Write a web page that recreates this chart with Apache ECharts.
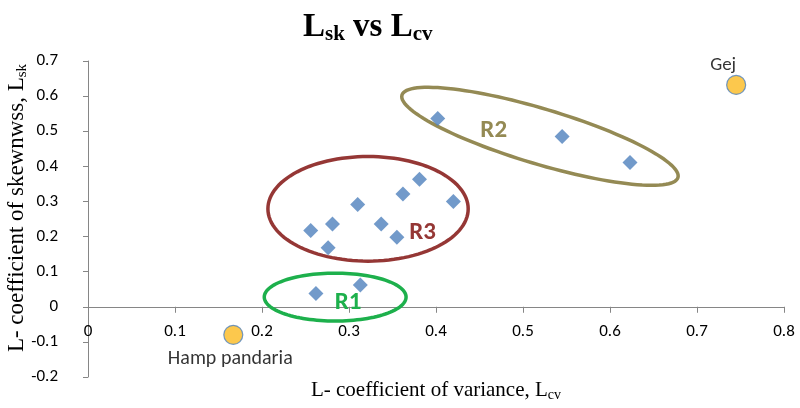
<!DOCTYPE html>
<html>
<head>
<meta charset="utf-8">
<title>L-moment ratio diagram</title>
<script src="https://cdn.jsdelivr.net/npm/echarts@6/dist/echarts.min.js"></script>
<style>
  html, body { margin: 0; padding: 0; background: #fff; }
  #chart { width: 800px; height: 408px; }
</style>
</head>
<body>
<div id="chart"></div>
<script>
// L-coefficient of variance (x) and L-skewness (y) for each site
const siteLcv = [0.402, 0.545, 0.623, 0.256, 0.281, 0.276, 0.310, 0.337, 0.355, 0.362, 0.381, 0.420, 0.262, 0.313];
const siteLsk = [0.536, 0.485, 0.411, 0.217, 0.236, 0.168, 0.291, 0.236, 0.198, 0.321, 0.363, 0.300, 0.038, 0.062];

// Outlying sites, labelled by name
const outlierNames = ['Gej', 'Hamp pandaria'];
const outlierLcv = [0.745, 0.167];
const outlierLsk = [0.632, -0.080];

// Axis ticks
const xTicks = [0, 0.1, 0.2, 0.3, 0.4, 0.5, 0.6, 0.7, 0.8];
const yTicks = [-0.2, -0.1, 0, 0.1, 0.2, 0.3, 0.4, 0.5, 0.6, 0.7];

// Homogeneous regions drawn as ellipses in data units:
// centre, half major-axis vector, half minor-axis vector, label anchor
const regionNames = ['R1', 'R2', 'R3'];
const regionCentre = [[0.2841, 0.0276], [0.5195, 0.4855], [0.3219, 0.279]];
const regionAxisA = [[0.0815, 0], [0.1586, -0.1175], [0.1151, 0]];
const regionAxisB = [[0, 0.0682], [-0.00916, -0.0754], [0, 0.149]];
const regionLabelAt = [[0.2989, 0.0105], [0.4663, 0.5006], [0.3846, 0.212]];
const regionColors = ['#1DB04C', '#948A54', '#953735'];

const sans = 'Carlito, Lato, sans-serif';
const serif = '"Liberation Serif", "Times New Roman", serif';

// Plot area
const W = 800, H = 408;
const grid = { left: 88, right: 16, top: 61, bottom: 31 };
const yMin = yTicks[0], yMax = yTicks[yTicks.length - 1];
// The x axis (line, ticks and labels) sits on y = 0
const plotH = H - grid.top - grid.bottom;
const xAxisLift = plotH * (0 - yMin) / (yMax - yMin);

const chart = echarts.init(document.getElementById('chart'), null, { renderer: 'canvas' });

chart.setOption({
  animation: false,
  backgroundColor: '#ffffff',
  title: {
    text: '{L|L}{s|sk}{L| vs L}{s|cv}',
    left: 298,
    top: 4,
    textStyle: {
      rich: {
        L: { fontFamily: serif, fontWeight: 'bold', fontSize: 33, lineHeight: 36, color: '#000' },
        s: { fontFamily: serif, fontWeight: 'bold', fontSize: 21, lineHeight: 20, verticalAlign: 'bottom', color: '#000' }
      }
    }
  },
  grid: Object.assign({ containLabel: false, outerBoundsMode: 'none' }, grid),
  xAxis: {
    type: 'value',
    min: xTicks[0],
    max: xTicks[xTicks.length - 1],
    interval: 0.1,
    offset: -xAxisLift,
    axisLine: { onZero: false, lineStyle: { color: '#868686', width: 1 } },
    axisTick: { show: true, length: 6, lineStyle: { color: '#868686' } },
    splitLine: { show: false },
    axisLabel: {
      margin: 16,
      color: '#000',
      fontFamily: sans,
      fontSize: 17,
      formatter: v => String(Math.round(v * 10) / 10)
    },
    name: '{t|L- coefficient of variance, L}{s|cv}',
    nameLocation: 'middle',
    nameGap: 71,
    nameTextStyle: {
      rich: {
        t: { fontFamily: serif, fontSize: 21, lineHeight: 25, color: '#000' },
        s: { fontFamily: serif, fontSize: 14, lineHeight: 14, verticalAlign: 'bottom', color: '#000' }
      }
    }
  },
  yAxis: {
    type: 'value',
    min: yMin,
    max: yMax,
    interval: 0.1,
    axisLine: { show: true, onZero: false, lineStyle: { color: '#868686', width: 1 } },
    axisTick: { show: true, length: 5, lineStyle: { color: '#868686' } },
    splitLine: { show: false },
    axisLabel: {
      margin: 30,
      color: '#000',
      fontFamily: sans,
      fontSize: 17,
      formatter: v => String(Math.round(v * 10) / 10)
    },
    name: '{t|L- coefficient of skewnwss, L}{s|sk}',
    nameLocation: 'middle',
    nameGap: 58,
    nameMoveOverlap: false,
    nameTextStyle: {
      padding: [0, 0, 0, 22],
      rich: {
        t: { fontFamily: serif, fontSize: 23, lineHeight: 27, color: '#000' },
        s: { fontFamily: serif, fontSize: 15, lineHeight: 15, verticalAlign: 'bottom', color: '#000' }
      }
    }
  },
  series: [
    {
      name: 'regions',
      type: 'custom',
      coordinateSystem: 'cartesian2d',
      silent: true,
      clip: false,
      z: 1,
      data: regionCentre.map((c, i) => [c[0], c[1], i]),
      encode: { x: 0, y: 1 },
      renderItem: (params, api) => {
        const i = params.dataIndex;
        const c = regionCentre[i], a = regionAxisA[i], b = regionAxisB[i];
        const pts = [];
        const n = 120;
        for (let k = 0; k < n; k++) {
          const t = (k / n) * Math.PI * 2;
          const ct = Math.cos(t), st = Math.sin(t);
          pts.push(api.coord([c[0] + a[0] * ct + b[0] * st, c[1] + a[1] * ct + b[1] * st]));
        }
        const lp = api.coord(regionLabelAt[i]);
        return {
          type: 'group',
          children: [
            {
              type: 'polygon',
              shape: { points: pts, smooth: 0 },
              style: { fill: 'none', stroke: regionColors[i], lineWidth: 3.5 }
            },
            {
              type: 'text',
              x: lp[0],
              y: lp[1],
              style: {
                text: regionNames[i],
                fill: regionColors[i],
                font: 'bold 25px ' + sans,
                align: 'center',
                verticalAlign: 'middle'
              }
            }
          ]
        };
      }
    },
    {
      name: 'sites',
      type: 'scatter',
      z: 3,
      symbol: 'diamond',
      symbolSize: [15, 15],
      itemStyle: { color: '#4F81BD' },
      data: siteLcv.map((x, i) => [x, siteLsk[i]])
    },
    {
      name: 'outliers',
      type: 'scatter',
      z: 3,
      symbol: 'circle',
      symbolSize: 19,
      itemStyle: { color: '#FBBA20', borderColor: '#4F81BD', borderWidth: 1.2 },
      label: {
        show: true,
        formatter: p => p.name,
        color: '#000',
        fontFamily: sans,
        fontSize: 19
      },
      data: outlierNames.map((n, i) => ({
        name: n,
        value: [outlierLcv[i], outlierLsk[i]],
        label: i === 0
          ? { position: 'top', offset: [-13, 5] }
          : { position: 'bottom', offset: [-3, -1], fontSize: 20 }
      }))
    }
  ]
});
</script>
</body>
</html>
